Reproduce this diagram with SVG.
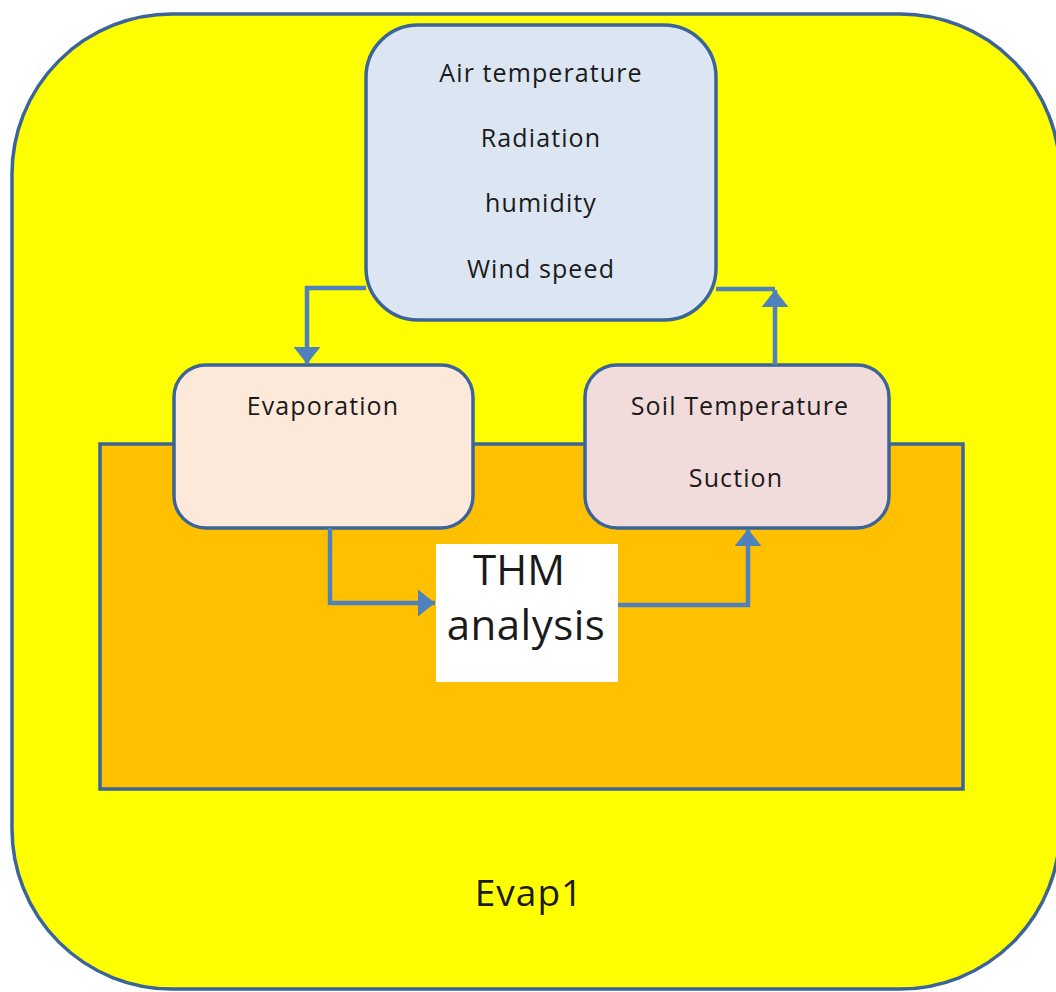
<svg xmlns="http://www.w3.org/2000/svg" width="1056" height="992" viewBox="0 0 1056 992">
<style>
.box{stroke:#3B6499;stroke-width:3.5}
.t{font-family:"Open Sans","Liberation Sans",sans-serif;fill:#1a1a1a;text-anchor:middle}
.s{font-size:25px;letter-spacing:1.1px}
.c{fill:none;stroke:#4F81BD;stroke-width:4.5}
</style>
<defs>
<marker id="ah" viewBox="0 0 10 10" preserveAspectRatio="none" refX="10" refY="5" markerWidth="3.8" markerHeight="6" markerUnits="strokeWidth" orient="auto">
<path d="M0,0 L10,5 L0,10 Z" fill="#4F81BD"/>
</marker>
</defs>
<rect width="1056" height="992" fill="#ffffff"/>
<g id="evap1">
<rect class="box" x="12" y="14" width="1048" height="975" rx="160" ry="160" fill="#FFFF00"/>
<text class="t" x="529" y="906" font-size="37" letter-spacing="1">Evap1</text>
</g>
<g id="domain">
<rect class="box" x="100" y="444" width="863" height="345" fill="#FFC000"/>
</g>
<g id="weather">
<rect class="box" x="366" y="25" width="350" height="295" rx="52" ry="52" fill="#DCE6F2"/>
<text class="t s" x="541" y="82">Air temperature</text>
<text class="t s" x="541" y="147">Radiation</text>
<text class="t s" x="541" y="212">humidity</text>
<text class="t s" x="541" y="278">Wind speed</text>
</g>
<g id="evaporation">
<rect class="box" x="174" y="365" width="299" height="163" rx="32" ry="32" fill="#FDE9D9"/>
<text class="t s" x="323" y="415">Evaporation</text>
</g>
<g id="soil">
<rect class="box" x="585" y="365" width="304" height="163" rx="32" ry="32" fill="#F2DCDB"/>
<text class="t s" x="740" y="415">Soil Temperature</text>
<text class="t s" x="736" y="487">Suction</text>
</g>
<g id="thm">
<rect x="436" y="544" width="182" height="138" fill="#ffffff"/>
<text class="t" x="519" y="585" font-size="42" fill="#000">THM</text>
<text class="t" x="526" y="640" font-size="42" letter-spacing="0.5">analysis</text>
</g>
<g id="connectors">
<path class="c" d="M366,288 L307,288 L307,364" marker-end="url(#ah)"/>
<path class="c" d="M716,289 L775,289" />
<path class="c" d="M775,365 L775,290" marker-end="url(#ah)"/>
<path class="c" d="M330,528 L330,603 L435,603" marker-end="url(#ah)"/>
<path class="c" d="M618,605 L748,605 L748,529" marker-end="url(#ah)"/>
</g>
</svg>
